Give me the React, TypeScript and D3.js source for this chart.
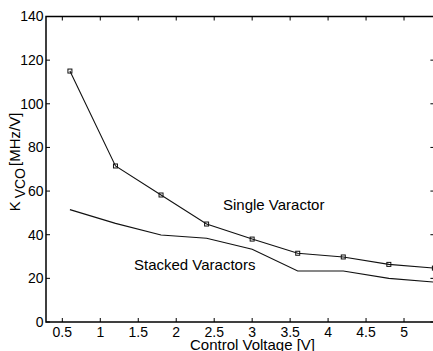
import React from "react";
import * as d3 from "d3";

const voltages = [0.6, 1.2, 1.8, 2.4, 3.0, 3.6, 4.2, 4.8, 5.4];
const singleVaractor = [115.0, 71.5, 58.2, 44.9, 38.0, 31.5, 29.8, 26.4, 24.7];
const stackedVaractors = [51.5, 45.2, 39.9, 38.4, 33.3, 23.4, 23.4, 20.0, 18.3];
const xTicks = [0.5, 1, 1.5, 2, 2.5, 3, 3.5, 4, 4.5, 5];
const yTicks = [0, 20, 40, 60, 80, 100, 120, 140];

const W = 433;
const H = 351;
const left = 46;
const right = 434.4;
const top = 16.5;
const bottom = 322;
const FONT = "'Liberation Sans', Arial, Helvetica, sans-serif";

export default function App() {
  const x = d3.scaleLinear().domain([0.285, 5.4]).range([left, right]);
  const y = d3.scaleLinear().domain([0, 140]).range([bottom, top]);

  const line = d3
    .line<[number, number]>()
    .x((d) => x(d[0]))
    .y((d) => y(d[1]));

  const singlePts = voltages.map((v, i) => [v, singleVaractor[i]] as [number, number]);
  const stackedPts = voltages.map((v, i) => [v, stackedVaractors[i]] as [number, number]);
  const tl = 4;
  const ms = 4;

  return (
    <svg
      width={W}
      height={H}
      style={{ position: "absolute", left: 0, top: 0, background: "#fff" }}
      fontFamily={FONT}
    >
      <rect x={0} y={0} width={W} height={H} fill="#fff" />
      {/* data */}
      <path d={line(stackedPts) || ""} fill="none" stroke="#111" strokeWidth={1.1} />
      <path d={line(singlePts) || ""} fill="none" stroke="#111" strokeWidth={1.1} />
      {singlePts.map((p, i) => (
        <rect
          key={i}
          x={x(p[0]) - ms / 2}
          y={y(p[1]) - ms / 2}
          width={ms}
          height={ms}
          fill="none"
          stroke="#111"
          strokeWidth={1}
        />
      ))}
      {/* ticks */}
      {xTicks.map((t) => (
        <g key={"x" + t}>
          <line x1={x(t)} x2={x(t)} y1={bottom} y2={bottom - tl} stroke="#000" strokeWidth={1} />
          <line x1={x(t)} x2={x(t)} y1={top} y2={top + tl} stroke="#000" strokeWidth={1} />
          <text x={x(t)} y={337} fontSize={14} textAnchor="middle" fill="#000">
            {String(t)}
          </text>
        </g>
      ))}
      {yTicks.map((t) => (
        <g key={"y" + t}>
          <line x1={left} x2={left + tl} y1={y(t)} y2={y(t)} stroke="#000" strokeWidth={1} />
          <line x1={right} x2={right - tl} y1={y(t)} y2={y(t)} stroke="#000" strokeWidth={1} />
          <text x={43.5} y={y(t)} dy="0.35em" fontSize={14} textAnchor="end" fill="#000">
            {String(t)}
          </text>
        </g>
      ))}
      {/* axes box */}
      <rect
        x={left}
        y={top}
        width={right - left}
        height={bottom - top}
        fill="none"
        stroke="#000"
        strokeWidth={1.5}
      />
      {/* annotations */}
      <text x={223} y={210} fontSize={15} fill="#000">
        Single Varactor
      </text>
      <text x={134} y={270} fontSize={15} fill="#000">
        Stacked Varactors
      </text>
      {/* axis labels */}
      <text x={252.5} y={350} fontSize={15} textAnchor="middle" fill="#000">
        Control Voltage [V]
      </text>
      <text transform="translate(20,162) rotate(-90)" fontSize={15} textAnchor="middle" fill="#000">
        K
        <tspan dx={3} dy={5} fontSize={14}>
          VCO
        </tspan>
        <tspan dx={2} dy={-5}>
          [MHz/V]
        </tspan>
      </text>
    </svg>
  );
}
